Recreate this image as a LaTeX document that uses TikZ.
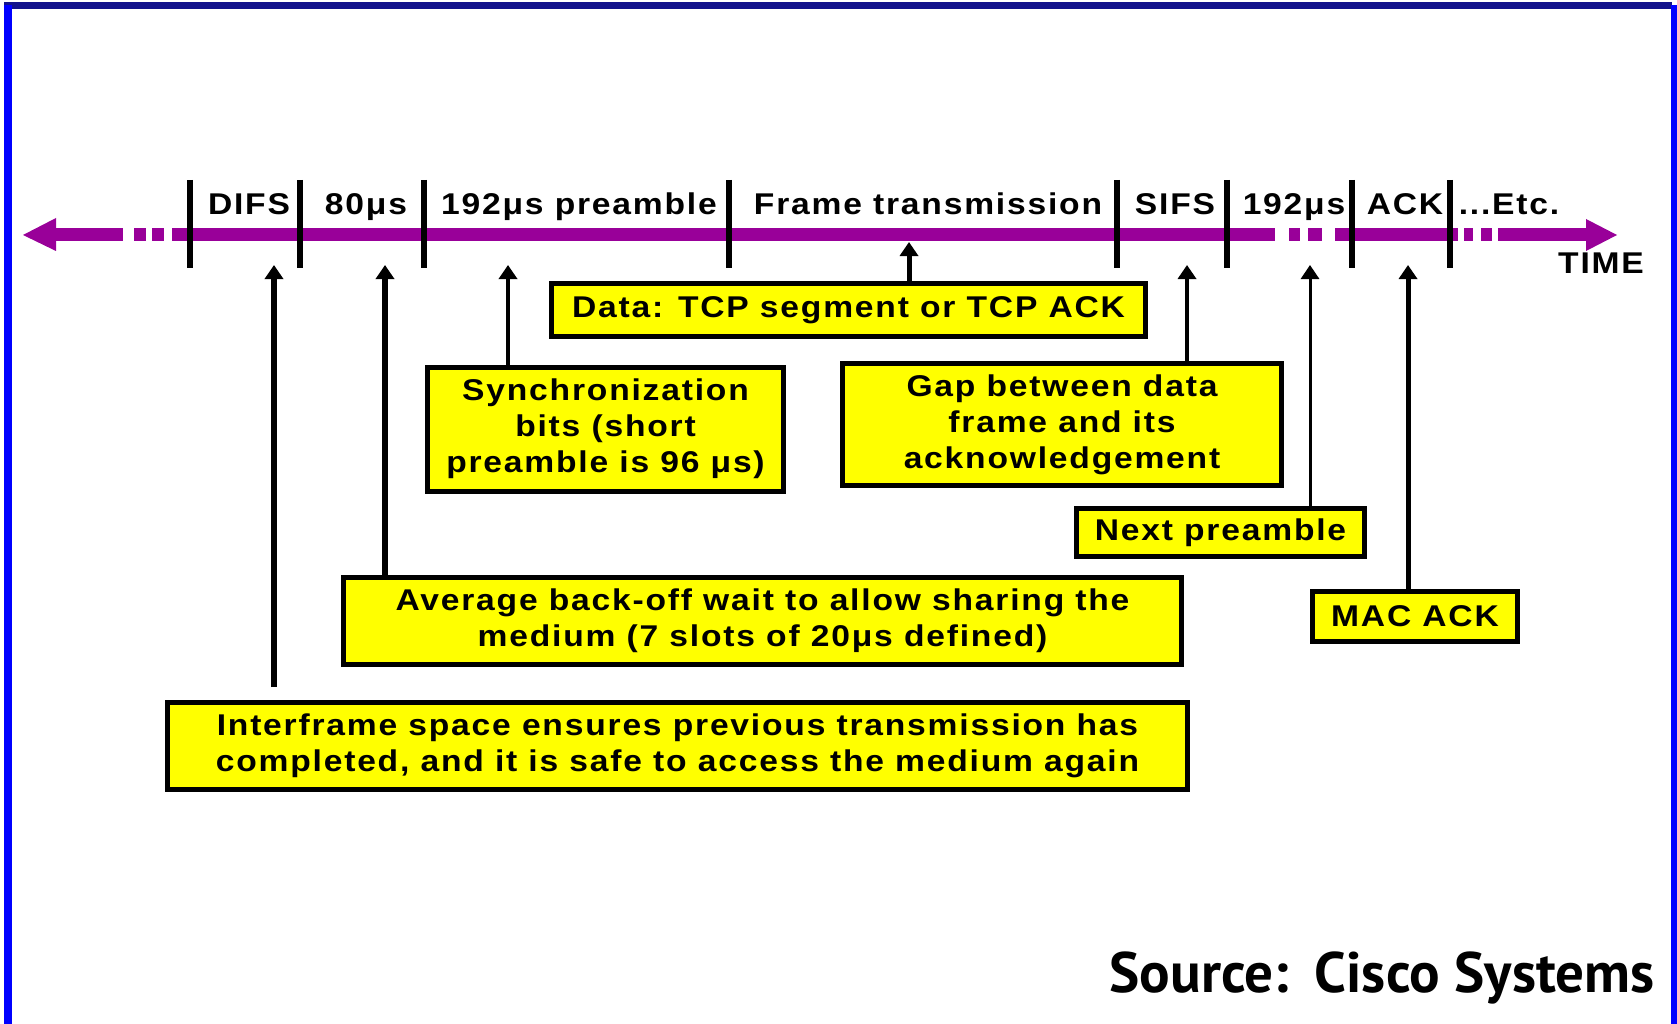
\documentclass[tikz,border=0pt]{standalone}
\usepackage{fontspec}
\setmainfont{Liberation Sans}
\newfontfamily\lblfont{Liberation Sans}[LetterSpace=6,FakeStretch=1.12]
\newfontfamily\srcfont{PT Sans}
\usetikzlibrary{arrows.meta}

\definecolor{tline}{RGB}{153,0,153}
\definecolor{frametop}{RGB}{18,18,140}
\definecolor{frameside}{RGB}{0,0,255}
\definecolor{notefill}{RGB}{255,255,0}

\begin{document}
\begin{tikzpicture}[x=1pt,y=-1pt,
  lbl/.style={font=\lblfont\bfseries\fontsize{30}{36}\selectfont, inner sep=0pt, anchor=base},
  note/.style={draw=black, line width=5pt, fill=notefill, inner sep=0pt, align=center,
    font=\lblfont\bfseries\fontsize{30}{36}\selectfont},
  tickmark/.style={line width=6pt},
  ptr/.style={-{Triangle[width=18pt,length=14pt]}, line width=5pt},
  thinptr/.style={ptr, line width=3.5pt},
  seg/.style={tline, line width=13pt}]

% page and frame
\fill[white] (0,0) rectangle (1677,1024);
\useasboundingbox (0,0) rectangle (1677,1024);
\fill[frametop] (4,2) rectangle (1672,9);
\fill[frameside] (4,5) rectangle (12,1024);
\fill[frameside] (1671,5) rectangle (1677,1024);

% time axis
\foreach \a/\b in {50/123, 134/146, 152/164, 172/1275, 1289/1300, 1308/1322,
                   1335/1458, 1464/1473, 1481/1492, 1498/1590}
  \draw[seg] (\a,235) -- (\b,235);
\fill[tline] (23,235) -- (56,218) -- (56,251) -- cycle;
\fill[tline] (1617,235) -- (1586,219) -- (1586,251) -- cycle;

% interval boundaries
\foreach \x in {190,300,424,729,1117,1227,1352,1450}
  \draw[tickmark] (\x,180) -- (\x,268);

% interval labels
\node[lbl] (ldifs) at (249,215) {DIFS};
\node[lbl] (lback) at (366,215) {80μs};
\node[lbl] (lpre)  at (579,215) {192μs preamble};
\node[lbl] (lframe) at (928,215) {Frame transmission};
\node[lbl] (lsifs) at (1175,215) {SIFS};
\node[lbl] (lpre2) at (1294,215) {192μs};
\node[lbl] (lack)  at (1405,215) {ACK};
\node[lbl] (letc)  at (1509,215) {...Etc.};
\node[lbl] (ltime) at (1601,273) {TIME};

% notes
\node[note, minimum width=594pt, minimum height=53pt] (data) at (848.5,310)
  {Data: TCP segment or TCP ACK};
\node[note, minimum width=356pt, minimum height=124pt] (sync) at (605.5,429)
  {Synchronization\\bits (short\\preamble is 96 μs)};
\node[note, minimum width=439pt, minimum height=122pt] (gap) at (1062,424.5)
  {Gap between data\\frame and its\\acknowledgement};
\node[note, minimum width=288pt, minimum height=48pt] (next) at (1220.5,532.5)
  {Next preamble};
\node[note, minimum width=838pt, minimum height=87pt] (avg) at (762.5,621)
  {Average back-off wait to allow sharing the\\medium (7 slots of 20μs defined)};
\node[note, minimum width=205pt, minimum height=50pt] (mac) at (1415,616.5)
  {MAC ACK};
\node[note, minimum width=1020pt, minimum height=87pt] (ifs) at (677.5,746)
  {Interframe space ensures previous transmission has\\completed, and it is safe to access the medium again};

% pointer targets on the axis
\coordinate (tdifs) at (274,265);
\coordinate (difsfoot) at (274,687);
\coordinate (tback) at (385,265);
\coordinate (tsync) at (508,265);
\coordinate (tdata) at (909,242);
\coordinate (tgap)  at (1187,265);
\coordinate (tnext) at (1310,265);
\coordinate (tmac)  at (1408,265);

\draw[ptr, line width=6pt] (difsfoot) -- (tdifs);
\draw[ptr, line width=6pt] (avg.north -| tback) -- (tback);
\draw[thinptr] (sync.north -| tsync) -- (tsync);
\draw[ptr] (data.north -| tdata) -- (tdata);
\draw[ptr, line width=4.5pt] (gap.north -| tgap) -- (tgap);
\draw[thinptr, line width=3pt] (next.north -| tnext) -- (tnext);
\draw[ptr] (mac.north -| tmac) -- (tmac);

% credit line
\node[font=\srcfont\bfseries\fontsize{57}{60}\selectfont, anchor=base east, inner sep=0pt]
  (src) at (1655,992) {Source:\hspace{0.45em}Cisco Systems};
\end{tikzpicture}
\end{document}
